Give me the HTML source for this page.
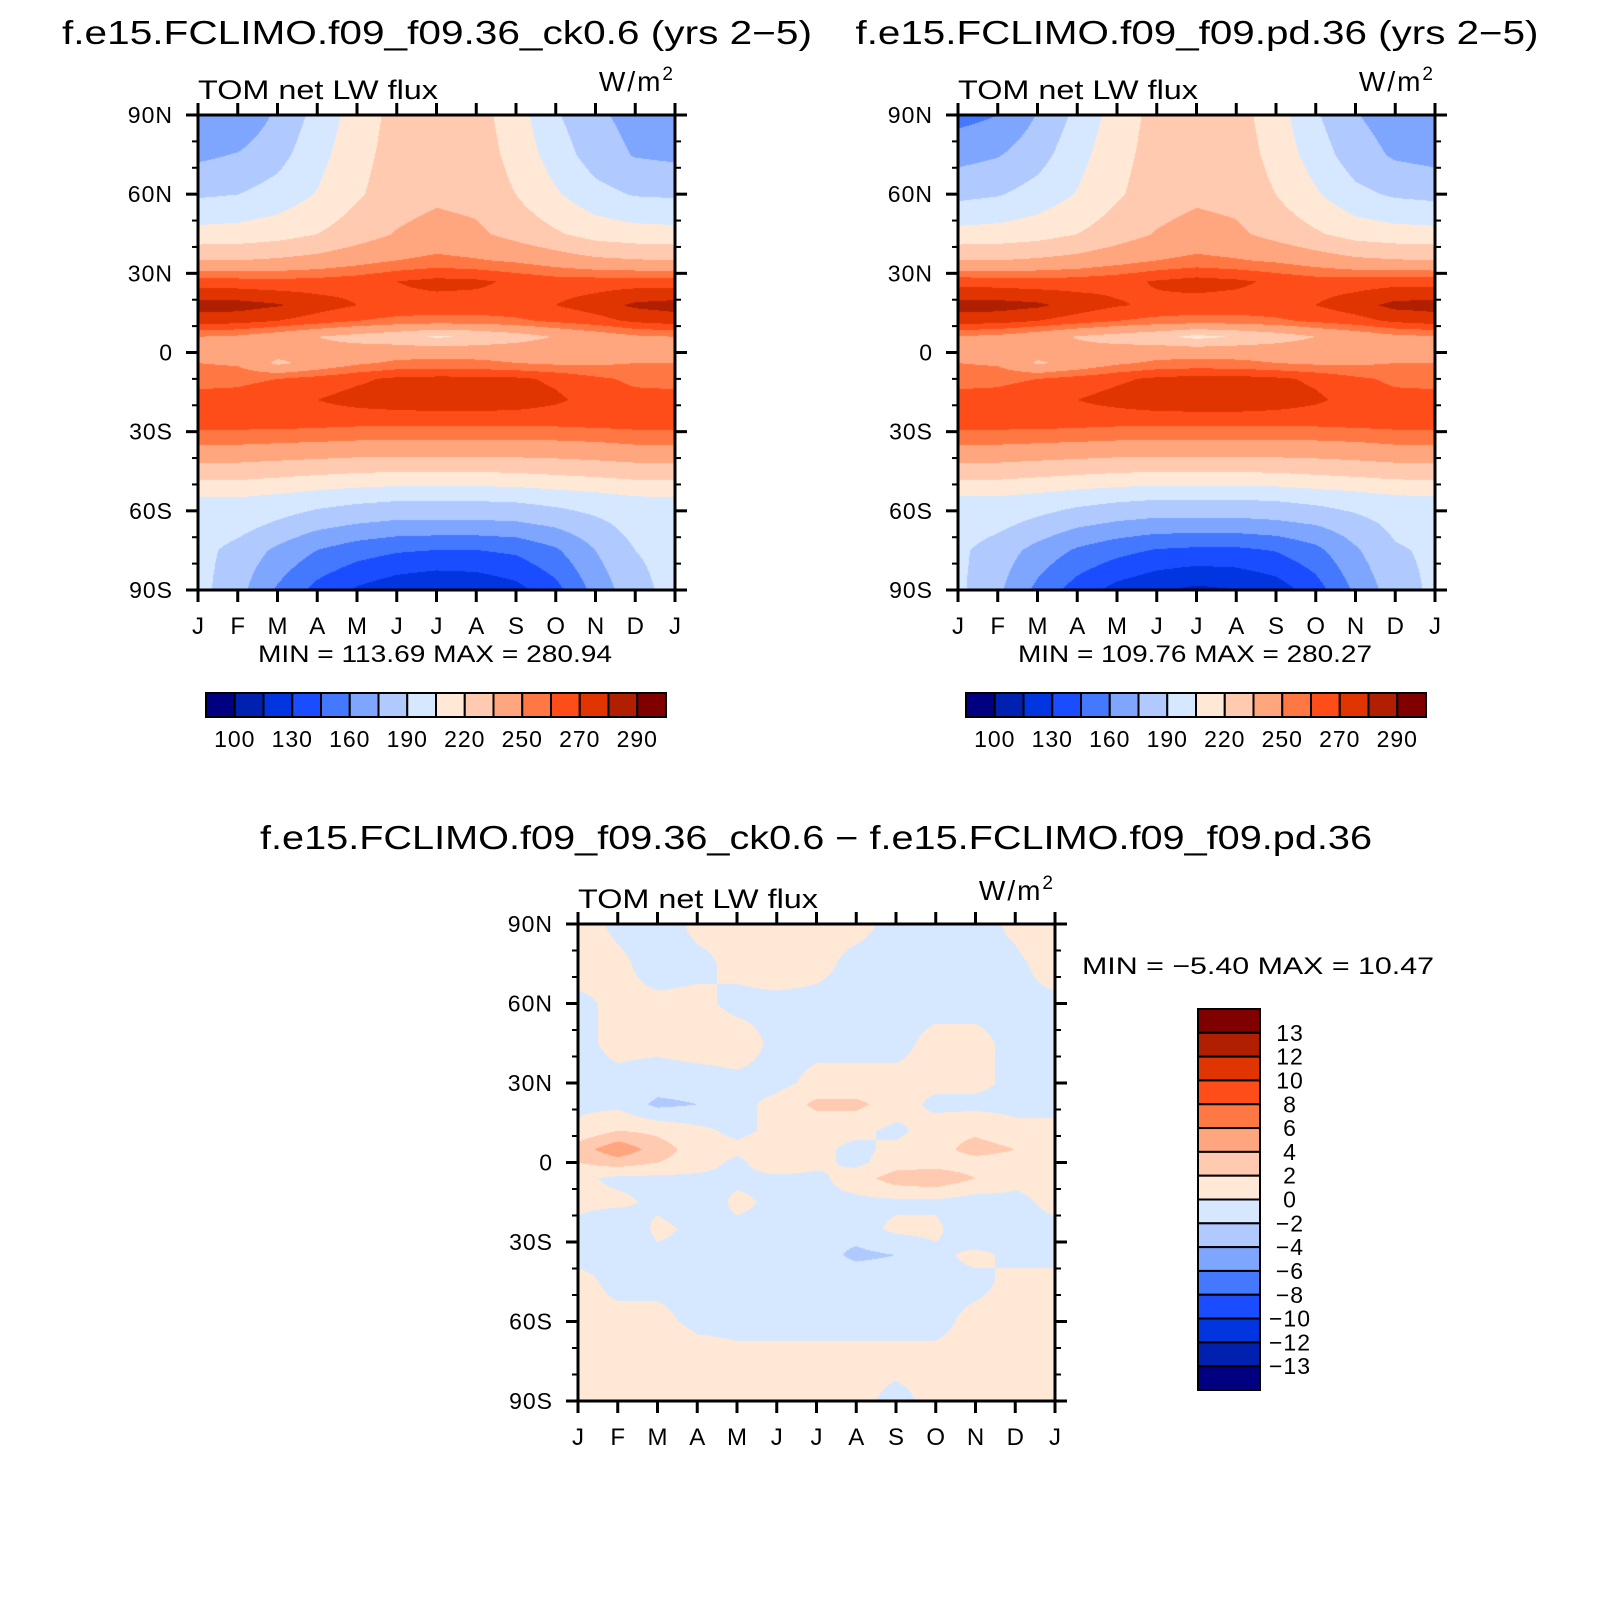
<!DOCTYPE html>
<html><head><meta charset="utf-8"><style>
body{margin:0;background:#fff;width:1624px;height:1624px;position:relative;overflow:hidden}
canvas{position:absolute}
svg{position:absolute;left:0;top:0}
text{font-family:"Liberation Sans",sans-serif;fill:#000}
</style></head><body>
<canvas id="c1"></canvas>
<canvas id="c2"></canvas>
<canvas id="c3"></canvas>
<svg id="s" width="1624" height="1624"></svg>
<script>
const months=["J","F","M","A","M","J","J","A","S","O","N","D","J"];
const latTickLabels=["90N","60N","30N","0","30S","60S","90S"];
const levelsAbs=[100,115,130,145,160,175,190,205,220,235,250,260,270,280,290];
const levelsAbsLabels=["100","130","160","190","220","250","270","290"];
const levelsDiff=[-13,-12,-10,-8,-6,-4,-2,0,2,4,6,8,10,12,13];
const colors=["#000080","#0020b0","#0035e0","#1a4dff","#4478ff","#7fa6ff","#b0caff","#d6e8ff","#ffe8d6","#ffcab0","#ffa67f","#ff7844","#ff4d1a","#e03500","#b02000","#800000"];
const latsAbs=[90,75,60,45,35,27,18,12,6,0,-4,-10,-18,-27,-35,-45,-55,-65,-75,-90];
const fieldA=[
[165,162,178,195,212,225,230,226,212,192,178,170,165],
[172,176,185,200,215,226,230,228,215,198,183,174,172],
[188,190,196,206,218,228,232,230,220,207,195,189,188],
[210,211,214,220,228,236,241,238,230,222,214,211,210],
[235,235,237,240,245,250,253,251,248,243,238,236,235],
[265,264,263,264,266,270,273,272,268,265,265,265,265],
[284,284,281,275,270,267,266,266,267,270,275,282,284],
[275,274,270,265,260,257,256,256,258,262,266,272,275],
[250,248,242,235,230,225,218,222,228,236,242,248,250],
[245,244,240,240,242,245,246,246,246,246,246,245,245],
[250,248,232,240,248,252,253,252,250,248,248,250,250],
[258,258,260,264,268,272,273,273,272,268,262,258,258],
[262,263,266,270,274,276,277,277,276,272,266,263,262],
[264,264,264,263,262,262,262,262,262,262,263,264,264],
[250,250,249,248,247,247,247,247,247,247,248,250,250],
[228,228,226,224,222,221,221,221,222,224,226,228,228],
[205,205,202,198,195,193,193,193,194,197,200,204,205],
[200,196,188,180,175,172,172,172,173,178,186,196,200],
[195,185,172,160,152,147,145,145,148,158,175,190,195],
[195,180,158,140,128,120,116,118,125,140,165,185,195]];
const fieldB=[
[155,160,176,194,212,225,230,226,212,192,176,168,160],
[170,174,184,200,215,226,230,228,215,198,182,173,170],
[186,189,196,206,218,228,232,230,220,207,194,188,186],
[210,211,214,220,228,236,241,238,230,222,214,211,210],
[235,235,237,240,245,250,253,251,248,243,238,236,235],
[266,265,264,265,267,271,274,272,268,265,265,266,266],
[284,284,282,276,271,268,266,266,267,270,276,283,284],
[275,274,270,265,260,257,256,256,258,262,266,272,275],
[249,247,241,234,229,224,216,221,227,235,241,247,249],
[245,244,240,240,242,245,246,246,246,246,246,245,245],
[250,248,233,240,248,252,253,252,250,248,248,250,250],
[258,258,260,264,268,272,274,274,272,268,262,258,258],
[262,263,266,270,274,277,278,278,276,272,266,263,262],
[264,264,264,263,262,262,262,262,262,262,263,264,264],
[250,250,249,248,247,247,247,247,247,247,248,250,250],
[228,228,226,224,222,221,221,221,222,224,226,228,228],
[204,204,201,197,194,192,192,192,193,196,199,203,204],
[198,194,186,178,173,170,170,170,172,176,184,194,198],
[193,183,170,158,150,144,142,142,146,156,173,188,193],
[193,178,156,138,125,117,112,115,122,138,163,183,193]];
const latsDiff=[90,75,60,45,30,22,12,5,0,-6,-15,-25,-35,-45,-60,-75,-90];
const fieldD=[
[1,-0.5,-1,0.5,0.5,0.5,0.5,0.5,-0.5,-1,-1,0.5,2],
[1,0.5,-1,-0.5,0.5,1,0.5,-0.5,-0.5,-0.5,-0.5,-0.5,1],
[-0.5,0.5,0.5,0.5,-0.5,-0.5,-0.5,-0.5,-0.5,-0.5,-0.5,-0.5,-0.5],
[-0.5,0.5,0.5,1,1,-0.5,-0.5,-0.5,-0.5,0.5,0.5,-0.5,-0.5],
[-0.5,-0.5,-1,-1,-0.5,-0.5,0.5,0.5,0.5,0.5,0.5,-0.5,-0.5],
[-0.5,-0.5,-2.5,-2,-0.5,0.5,2.5,2.5,1,-0.5,-0.5,-0.5,-0.5],
[0.5,2,1.5,0.5,-0.5,0.5,0.5,0.5,-0.5,1,1.5,0.5,0.5],
[3,5.5,3,1,0.5,1,0.5,-0.5,0.5,1,3,2,2],
[2,3,2,1,-0.5,1.5,0.5,-0.5,1,1,1,1,2],
[0.5,-0.5,-0.5,-0.5,-0.5,-0.5,-0.5,1,3,3.5,2,0.5,0.5],
[0.5,0.5,-0.5,-1.5,0.5,-0.5,-0.5,-0.5,-0.5,-0.5,-1,-0.5,0.5],
[-0.5,-2,0.5,-0.5,-0.5,-0.5,-2,-1,0.5,0.5,-2,-0.5,-0.5],
[-0.5,-0.5,-0.5,-0.5,-0.5,-0.5,-1,-2.5,-2,-0.5,0.5,-0.5,-0.5],
[0.5,-0.5,-0.5,-0.5,-0.5,-0.5,-0.5,-0.5,-0.5,-0.5,-0.5,0.5,0.5],
[0.5,0.5,0.5,-0.5,-0.5,-0.5,-0.5,-0.5,-0.5,-0.5,0.5,0.5,0.5],
[2,1,2,1,0.5,0.5,0.5,0.5,0.5,0.5,0.5,0.5,1],
[0.5,0.5,1,2,0.5,0.5,2,0.5,-0.5,0.5,0.5,0.5,0.5]];

const NS="http://www.w3.org/2000/svg";
const svg=document.getElementById('s');
function el(tag,attrs,txt){const e=document.createElementNS(NS,tag);for(const k in attrs)e.setAttribute(k,attrs[k]);if(txt!==undefined)e.textContent=txt;svg.appendChild(e);return e;}
function hex(c){return [parseInt(c.substr(1,2),16),parseInt(c.substr(3,2),16),parseInt(c.substr(5,2),16)];}
const rgb=colors.map(hex);
function levelIndex(v,lv){let i=0;while(i<lv.length&&v>=lv[i])i++;return i;}
function sample(lats,field,lat,m){
  let r=0;while(r<lats.length-2&&lat<lats[r+1])r++;
  const t=(lats[r]-lat)/(lats[r]-lats[r+1]);
  let c=Math.floor(m);if(c>11)c=11;const u=m-c;
  const a=field[r][c]*(1-u)+field[r][c+1]*u;
  const b=field[r+1][c]*(1-u)+field[r+1][c+1]*u;
  return a*(1-t)+b*t;
}
function drawField(id,x0,y0,w,h,lats,field,lv){
  const cv=document.getElementById(id);cv.width=w;cv.height=h;
  cv.style.left=x0+'px';cv.style.top=y0+'px';
  const ctx=cv.getContext('2d');const img=ctx.createImageData(w,h);
  for(let y=0;y<h;y++){const lat=90-180*y/(h-1);
    for(let x=0;x<w;x++){const m=12*x/(w-1);
      const v=sample(lats,field,lat,m);const c=rgb[levelIndex(v,lv)];
      const p=(y*w+x)*4;img.data[p]=c[0];img.data[p+1]=c[1];img.data[p+2]=c[2];img.data[p+3]=255;}}
  ctx.putImageData(img,0,0);
}
function axes(name,x0,y0,w,h){
  const xs=m=>x0+w*m/12, ys=lat=>y0+h*(90-lat)/180;
  el('rect',{x:x0,y:y0,width:w,height:h,fill:'none',stroke:'#000','stroke-width':3,});
  for(let m=0;m<=12;m++){const x=xs(m);
    el('line',{x1:x,x2:x,y1:y0+h,y2:y0+h+12,stroke:'#000','stroke-width':3});
    el('line',{x1:x,x2:x,y1:y0,y2:y0-12,stroke:'#000','stroke-width':3});
    const t=el('text',{x:x,y:y0+h+44,'font-size':24,'text-anchor':'middle'},months[m]);
    }
  for(let lat=90;lat>=-90;lat-=10){const y=ys(lat);const major=lat%30===0;const L=major?12:6;
    el('line',{x1:x0-L,x2:x0,y1:y,y2:y,stroke:'#000','stroke-width':major?3:2});
    el('line',{x1:x0+w,x2:x0+w+L,y1:y,y2:y,stroke:'#000','stroke-width':major?3:2});}
  latTickLabels.forEach((lb,i)=>{const t=el('text',{x:x0-25,y:ys(90-30*i)+8,'font-size':23,'letter-spacing':1,'text-anchor':'end'},lb);
    });
  el('text',{x:x0,y:y0-16,'font-size':27,textLength:240,lengthAdjust:'spacingAndGlyphs',},'TOM net LW flux');
  const u=el('text',{x:x0+w,y:y0-24,'font-size':28,'text-anchor':'end','letter-spacing':2,});
  u.innerHTML='W/m<tspan font-size="19" dy="-11">2</tspan>';
}
function hbar(name,x0,y0,w,h){
  const bw=w/16;
  for(let i=0;i<16;i++){const r=el('rect',{x:x0+i*bw,y:y0,width:bw,height:h,fill:colors[i],stroke:'#000','stroke-width':2});
    }
  levelsAbsLabels.forEach((lb,j)=>{const t=el('text',{x:x0+bw*(1+2*j),y:y0+h+30,'font-size':23,'letter-spacing':1,'text-anchor':'middle'},lb);
    });
}
function ctext(x,y,fs,len,txt,name){return el('text',{x:x-len/2,y:y,'font-size':fs,textLength:len,lengthAdjust:'spacingAndGlyphs',},txt);}
// top-left
drawField('c1',198,115,477,475,latsAbs,fieldA,levelsAbs);
axes('left-panel',198,115,477,475);
ctext(437,44,33,750,'f.e15.FCLIMO.f09_f09.36_ck0.6 (yrs 2\u22125)','left-panel-title');
ctext(435,662,24,354,'MIN = 113.69  MAX = 280.94','left-panel-minmax');
hbar('left-colorbar',206,693,460,24);
// top-right
drawField('c2',958,115,477,475,latsAbs,fieldB,levelsAbs);
axes('right-panel',958,115,477,475);
ctext(1197,44,33,683,'f.e15.FCLIMO.f09_f09.pd.36 (yrs 2\u22125)','right-panel-title');
ctext(1195,662,24,354,'MIN = 109.76  MAX = 280.27','right-panel-minmax');
hbar('right-colorbar',966,693,460,24);
// bottom
drawField('c3',578,924,477,477,latsDiff,fieldD,levelsDiff);
axes('diff-panel',578,924,477,477);
ctext(816,849,33,1112,'f.e15.FCLIMO.f09_f09.36_ck0.6 \u2212 f.e15.FCLIMO.f09_f09.pd.36','diff-panel-title');
ctext(1258,974,24,352,'MIN =   \u22125.40  MAX =   10.47','diff-panel-minmax');
(function(){const x0=1198,y0=1009,w=62,h=381,bh=h/16;
  for(let i=0;i<16;i++){const r=el('rect',{x:x0,y:y0+i*bh,width:w,height:bh,fill:colors[15-i],stroke:'#000','stroke-width':2});
    }
  for(let j=0;j<15;j++){const v=levelsDiff[14-j];const t=el('text',{x:1290,y:y0+bh*(j+1)+8,'font-size':23,'letter-spacing':1,'text-anchor':'middle'},String(v).replace('-','\u2212'));
    }
})();
</script>
</body></html>
